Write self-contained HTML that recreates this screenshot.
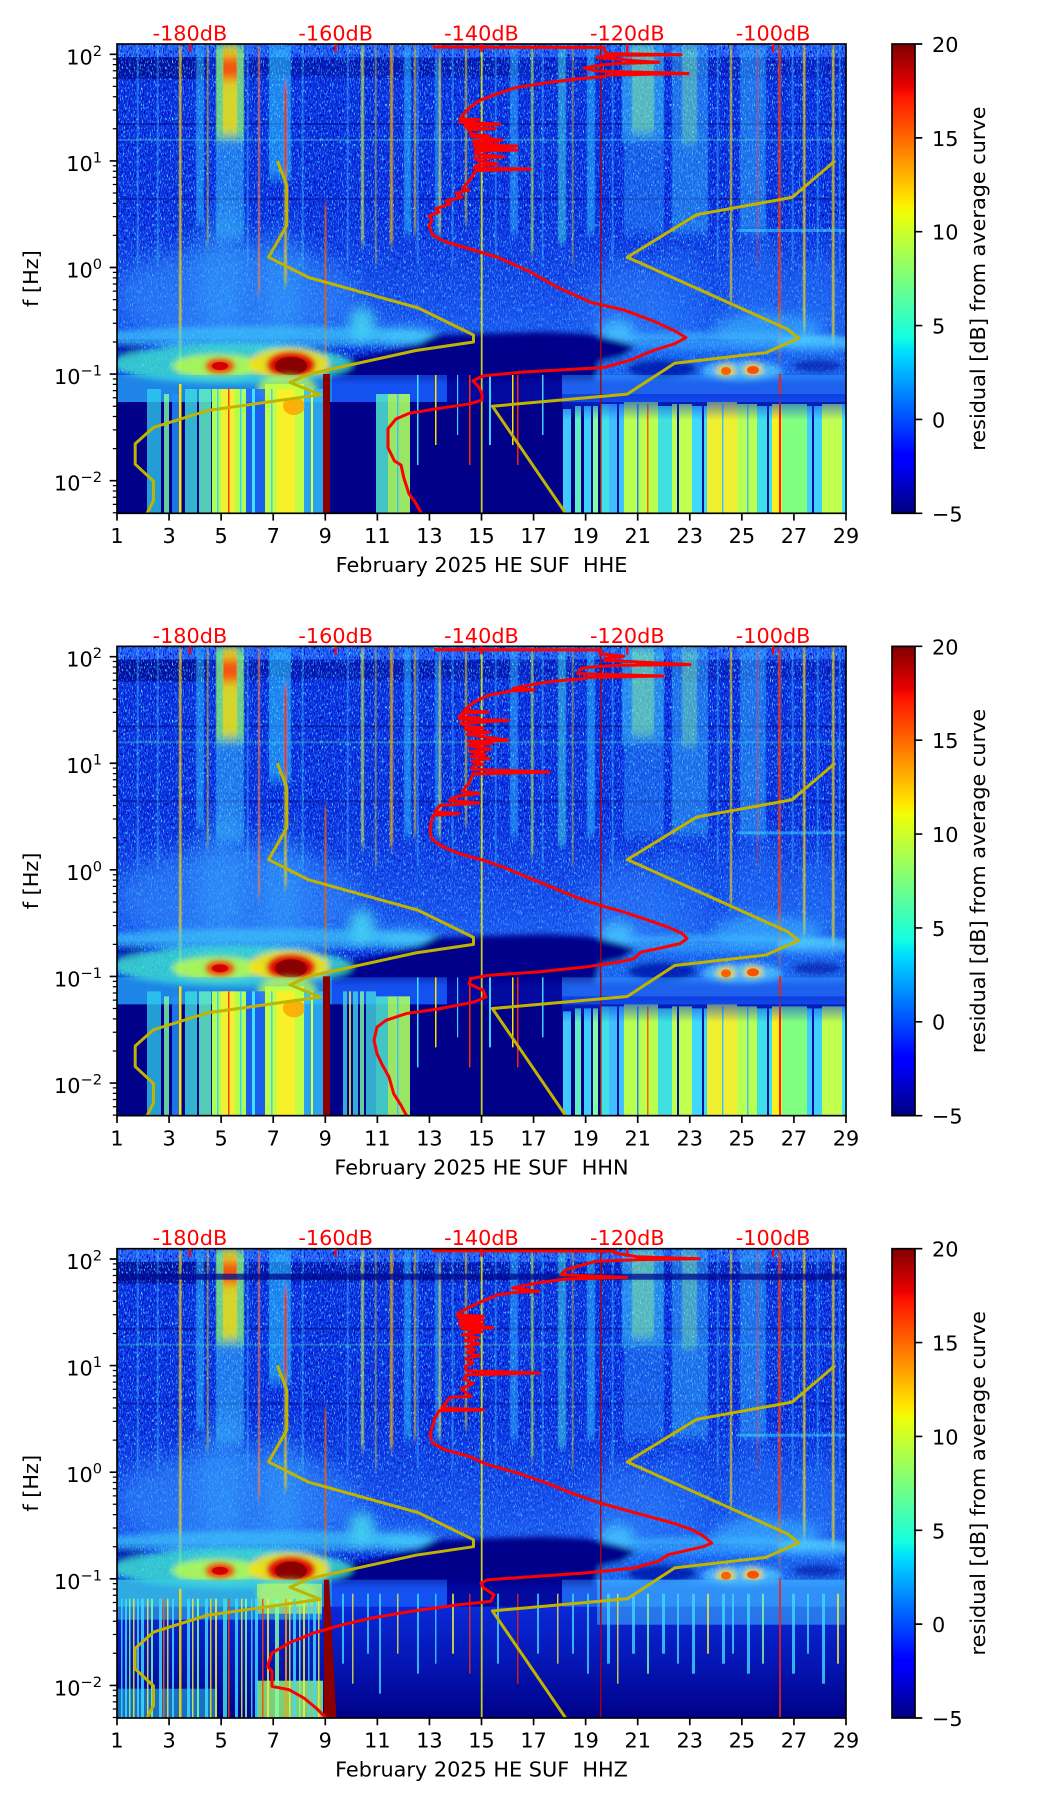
<!DOCTYPE html>
<html><head><meta charset="utf-8">
<style>
html,body{margin:0;padding:0;background:#fff}
svg{display:block}
text{font-family:"DejaVu Sans","Liberation Sans",sans-serif;font-size:20.8px;fill:#000}
</style></head>
<body>
<svg xmlns="http://www.w3.org/2000/svg" xmlns:xlink="http://www.w3.org/1999/xlink" width="1052" height="1806" viewBox="0 0 1052 1806">
<defs>
<linearGradient id="jet" x1="0" y1="1" x2="0" y2="0">
<stop offset="0" stop-color="#000080"/><stop offset="0.11" stop-color="#0000ff"/><stop offset="0.125" stop-color="#0000ff"/>
<stop offset="0.34" stop-color="#00dbff"/><stop offset="0.35" stop-color="#00e5f7"/><stop offset="0.375" stop-color="#14ffe2"/>
<stop offset="0.5" stop-color="#7bff7b"/><stop offset="0.64" stop-color="#eeff08"/><stop offset="0.66" stop-color="#ffec00"/>
<stop offset="0.89" stop-color="#ff1300"/><stop offset="0.91" stop-color="#e80000"/><stop offset="1" stop-color="#800000"/>
</linearGradient>
<linearGradient id="gmid" x1="0" y1="0" x2="0" y2="1"><stop offset="0" stop-color="#2a7aff" stop-opacity="0"/><stop offset="1" stop-color="#2a80ff" stop-opacity=".55"/></linearGradient>
<linearGradient id="gb3" x1="0" y1="0" x2="0" y2="1"><stop offset="0" stop-color="#0a28d8"/><stop offset=".55" stop-color="#0414b0"/><stop offset="1" stop-color="#000088"/></linearGradient>
<linearGradient id="gfade" x1="0" y1="0" x2="0" y2="1"><stop offset="0" stop-color="#0a38e0" stop-opacity=".85"/><stop offset="1" stop-color="#0a38e0" stop-opacity="0"/></linearGradient>
<clipPath id="cp"><rect x="0" y="0" width="729" height="469.3"/></clipPath>
<filter id="b3" x="-50%" y="-50%" width="200%" height="200%"><feGaussianBlur stdDeviation="3"/></filter>
<filter id="b6" x="-50%" y="-50%" width="200%" height="200%"><feGaussianBlur stdDeviation="6"/></filter>
<filter id="b10" x="-50%" y="-50%" width="200%" height="200%"><feGaussianBlur stdDeviation="10"/></filter>
<filter id="fs" x="-5%" y="-10%" width="110%" height="120%"><feGaussianBlur stdDeviation="0.4 5"/></filter>
<filter id="nzc" filterUnits="userSpaceOnUse" x="0" y="0" width="729" height="330">
<feTurbulence type="fractalNoise" baseFrequency="0.9 0.35" numOctaves="1" seed="4"/>
<feColorMatrix type="matrix" values="0 0 0 0 0.05  0 0 0 0 0.6  0 0 0 0 1  5 0 0 0 -2.75"/>
</filter>
<filter id="nze" filterUnits="userSpaceOnUse" x="0" y="0" width="729" height="330">
<feTurbulence type="fractalNoise" baseFrequency="0.9 0.3" numOctaves="1" seed="21"/>
<feColorMatrix type="matrix" values="0 0 0 0 0.25  0 0 0 0 1  0 0 0 0 0.85  8 0 0 0 -5.3"/>
</filter>
<filter id="nzd" filterUnits="userSpaceOnUse" x="0" y="0" width="729" height="330">
<feTurbulence type="fractalNoise" baseFrequency="0.8 0.3" numOctaves="1" seed="11"/>
<feColorMatrix type="matrix" values="0 0 0 0 0  0 0 0 0 0  0 0 0 0 0.5  0 5 0 0 -2.7"/>
</filter>

<g id="bg">
<rect width="729" height="470" fill="#0b32e2"/>
<rect y="0" width="729" height="13" fill="#2c6cff" opacity=".7"/>
<rect y="14" width="729" height="20" fill="#0818b0" opacity=".5"/>
<rect x="0" y="13" width="90" height="22" fill="#000c90" opacity=".75"/>
<rect x="130" y="14" width="270" height="18" fill="#000c98" opacity=".4"/>
<rect width="729" height="330" fill="#000" filter="url(#nzc)"/>
<rect width="729" height="330" fill="#000" filter="url(#nzd)"/>
<rect width="729" height="330" fill="#000" filter="url(#nze)"/>
<rect y="79" width="729" height="2" fill="#000c90" opacity=".6"/>
<rect y="95" width="729" height="2" fill="#40e0c0" opacity=".35"/>
<rect y="154" width="729" height="2" fill="#000c90" opacity=".5"/>
<rect y="170" width="729" height="125" fill="url(#gmid)"/>
<g filter="url(#b10)">
<ellipse cx="120" cy="250" rx="120" ry="50" fill="#3aa0ff" opacity=".45"/>
<ellipse cx="105" cy="225" rx="25" ry="60" fill="#40c0ff" opacity=".3"/>
<ellipse cx="165" cy="235" rx="20" ry="55" fill="#40c0ff" opacity=".3"/>
<ellipse cx="510" cy="260" rx="40" ry="45" fill="#3898ff" opacity=".35"/>
<ellipse cx="560" cy="250" rx="25" ry="50" fill="#3090ff" opacity=".3"/>
<ellipse cx="700" cy="250" rx="30" ry="40" fill="#3090ff" opacity=".3"/>
<ellipse cx="640" cy="240" rx="25" ry="50" fill="#3090ff" opacity=".3"/>
</g>
<g filter="url(#fs)">
<rect x="62" y="0" width="2.5" height="330" fill="#ffd000" opacity=".75"/>
<rect x="79" y="0" width="8" height="180" fill="#30d0ff" opacity=".45"/>
<rect x="90" y="0" width="1.5" height="200" fill="#ffe000" opacity=".6"/>
<rect x="99" y="0" width="28" height="95" fill="#90ff70" opacity=".75"/>
<rect x="99" y="95" width="28" height="100" fill="#40d0ff" opacity=".45"/>
<rect x="106" y="0" width="14" height="90" fill="#ffd800" opacity=".7"/>
<rect x="106" y="12" width="14" height="24" fill="#ff2000" opacity=".7"/>
<rect x="141" y="0" width="2" height="250" fill="#ff8040" opacity=".7"/>
<rect x="152" y="0" width="22" height="135" fill="#30d8ff" opacity=".5"/>
<rect x="167" y="40" width="3" height="90" fill="#ff3000" opacity=".7"/>
<rect x="167" y="130" width="3" height="110" fill="#ffd000" opacity=".6"/>
<rect x="207.5" y="160" width="2" height="180" fill="#f06000" opacity=".8"/>
<rect x="244" y="0" width="3" height="200" fill="#e0ff40" opacity=".6"/>
<rect x="273" y="0" width="3" height="200" fill="#ffb000" opacity=".7"/>
<rect x="287" y="0" width="7" height="190" fill="#30c8ff" opacity=".5"/>
<rect x="297" y="0" width="2" height="190" fill="#ffe000" opacity=".6"/>
<rect x="318" y="10" width="6" height="180" fill="#30c8ff" opacity=".45"/>
<rect x="322" y="10" width="2" height="180" fill="#ffe000" opacity=".6"/>
<rect x="348" y="0" width="2" height="180" fill="#ffe000" opacity=".6"/>
<rect x="393" y="0" width="8" height="190" fill="#30c8ff" opacity=".45"/>
<rect x="414" y="0" width="2.5" height="210" fill="#c0ff40" opacity=".6"/>
<rect x="441" y="0" width="8" height="200" fill="#40e0e0" opacity=".5"/>
<rect x="470" y="0" width="8" height="190" fill="#30c8ff" opacity=".5"/>
<rect x="505" y="0" width="42" height="95" fill="#40e0ff" opacity=".5"/>
<rect x="515" y="0" width="22" height="90" fill="#a0ff80" opacity=".4"/>
<rect x="507" y="95" width="40" height="95" fill="#30b0ff" opacity=".35"/>
<rect x="555" y="0" width="36" height="190" fill="#40d0ff" opacity=".4"/>
<rect x="565" y="0" width="15" height="100" fill="#90ff90" opacity=".35"/>
<rect x="613" y="0" width="2" height="260" fill="#ffe000" opacity=".7"/>
<rect x="623" y="0" width="26" height="190" fill="#40d0ff" opacity=".4"/>
<rect x="661" y="0" width="3" height="320" fill="#ff4000" opacity=".7"/>
<rect x="686" y="0" width="2.5" height="290" fill="#ffe000" opacity=".7"/>
<rect x="715" y="0" width="2.5" height="300" fill="#ffe000" opacity=".7"/>
<rect x="20" y="0" width="1.5" height="220" fill="#40d0ff" opacity=".5"/>
<rect x="40" y="0" width="1.5" height="220" fill="#40d0ff" opacity=".5"/>
<rect x="130" y="0" width="1.5" height="220" fill="#40d0ff" opacity=".5"/>
<rect x="185" y="0" width="1.5" height="220" fill="#40d0ff" opacity=".5"/>
<rect x="230" y="0" width="1.5" height="220" fill="#40d0ff" opacity=".5"/>
<rect x="258" y="0" width="1.5" height="220" fill="#ffe000" opacity=".5"/>
<rect x="300" y="0" width="1.5" height="220" fill="#40d0ff" opacity=".5"/>
<rect x="335" y="0" width="1.5" height="220" fill="#40d0ff" opacity=".5"/>
<rect x="378" y="0" width="1.5" height="220" fill="#40d0ff" opacity=".5"/>
<rect x="425" y="0" width="1.5" height="220" fill="#40d0ff" opacity=".5"/>
<rect x="455" y="0" width="1.5" height="220" fill="#ffe000" opacity=".5"/>
<rect x="495" y="0" width="1.5" height="220" fill="#40d0ff" opacity=".5"/>
<rect x="600" y="0" width="1.5" height="220" fill="#40d0ff" opacity=".5"/>
<rect x="640" y="0" width="1.5" height="220" fill="#ff3000" opacity=".5"/>
<rect x="675" y="0" width="1.5" height="220" fill="#40d0ff" opacity=".5"/>
<rect x="700" y="0" width="1.5" height="220" fill="#40d0ff" opacity=".5"/>
<rect x="722" y="0" width="1.5" height="220" fill="#40d0ff" opacity=".5"/>
</g>
<rect x="620" y="185" width="109" height="3" fill="#40e0ff" opacity=".5"/>
<g filter="url(#b6)">
<ellipse cx="245" cy="280" rx="14" ry="18" fill="#50f0f0" opacity=".7"/>
<ellipse cx="290" cy="292" rx="30" ry="9" fill="#50e0ff" opacity=".6"/>
<ellipse cx="500" cy="288" rx="18" ry="12" fill="#50e8ff" opacity=".6"/>
<ellipse cx="650" cy="285" rx="55" ry="16" fill="#40c8ff" opacity=".5"/>
</g>
<g filter="url(#b3)">
<ellipse cx="150" cy="293" rx="175" ry="11" fill="#40d0f8" opacity=".6"/>
<ellipse cx="600" cy="297" rx="140" ry="9" fill="#40c0ff" opacity=".6"/>
<ellipse cx="700" cy="300" rx="40" ry="8" fill="#60e8ff" opacity=".55"/>
<rect x="480" y="300" width="249" height="36" fill="#2a8cff" opacity=".55"/>
<polygon points="205,336 212,318 262,309 300,300 318,291 425,288 470,290 498,296 520,302 505,313 482,318 478,336" fill="#00008a"/>
<rect x="0" y="300" width="25" height="18" fill="#0010a0" opacity=".7"/>
<ellipse cx="545" cy="325" rx="35" ry="10" fill="#0008a0" opacity=".7"/>
<ellipse cx="700" cy="322" rx="25" ry="7" fill="#0010a0" opacity=".6"/>
<ellipse cx="115" cy="320" rx="120" ry="20" fill="#40e8d0" opacity=".8"/>
<ellipse cx="100" cy="322" rx="45" ry="12" fill="#c0ff40" opacity=".8"/>
<ellipse cx="172" cy="320" rx="40" ry="16" fill="#ffe000" opacity=".85"/>
<ellipse cx="625" cy="327" rx="40" ry="10" fill="#60e8ff" opacity=".6"/>
<ellipse cx="609" cy="327" rx="10" ry="7" fill="#ffe000" opacity=".8"/>
<ellipse cx="636" cy="326" rx="10" ry="7" fill="#ffe000" opacity=".8"/>
</g>
<ellipse cx="103" cy="322" rx="14" ry="7" fill="#ff3000" filter="url(#b3)"/>
<ellipse cx="103" cy="322" rx="8" ry="4" fill="#d00000"/>
<ellipse cx="174" cy="321" rx="23" ry="12" fill="#e00000" filter="url(#b3)"/>
<ellipse cx="174" cy="322" rx="16" ry="9" fill="#8a0000"/>
<ellipse cx="609" cy="327" rx="5" ry="4" fill="#ff6000"/>
<ellipse cx="636" cy="326" rx="6" ry="4" fill="#ff5000"/>
<rect x="0" y="331" width="215" height="34" fill="#30c8e8" opacity=".55"/>
<rect x="215" y="331" width="115" height="31" fill="#1e70ff" opacity=".5"/>
<rect x="330" y="331" width="115" height="31" fill="#000090" opacity=".8"/>
<rect x="445" y="331" width="284" height="34" fill="#3aa8ff" opacity=".4"/>
<ellipse cx="170" cy="345" rx="30" ry="15" fill="#c0ff50" opacity=".7" filter="url(#b3)"/>
</g>

<g id="vl">
<rect x="363.8" y="0" width="1.8" height="470" fill="#e8f000" opacity=".85"/>
<rect x="483" y="0" width="1.5" height="470" fill="#b00000" opacity=".9"/>
</g>

<g id="rcols">
<rect x="446" y="365" width="8" height="105" fill="#40c8ff"/>
<rect x="458" y="362" width="6" height="108" fill="#60f0c0"/>
<rect x="467" y="362" width="7" height="108" fill="#40d0ff"/>
<rect x="476" y="362" width="5" height="108" fill="#80ffa0"/>
<rect x="483" y="360" width="9" height="110" fill="#40e0e8"/>
<rect x="492" y="360" width="15" height="110" fill="#40c0ff"/>
<rect x="507" y="358" width="34" height="112" fill="#b8ff50"/>
<rect x="541" y="362" width="14" height="108" fill="#40e0e0"/>
<rect x="555" y="360" width="20" height="110" fill="#c0ff50"/>
<rect x="575" y="362" width="15" height="108" fill="#40d8ff"/>
<rect x="590" y="358" width="30" height="112" fill="#f0f030"/>
<rect x="620" y="360" width="20" height="110" fill="#b8ff50"/>
<rect x="640" y="362" width="15" height="108" fill="#40e0e8"/>
<rect x="655" y="360" width="10" height="110" fill="#f8f020"/>
<rect x="665" y="360" width="25" height="110" fill="#80ff80"/>
<rect x="690" y="362" width="15" height="108" fill="#40d0ff"/>
<rect x="705" y="360" width="20" height="110" fill="#c0ff50"/>
<rect x="725" y="360" width="4" height="110" fill="#40e0ff"/>
<rect x="500" y="360" width="2" height="110" fill="#0010a0"/>
<rect x="520" y="360" width="1.5" height="110" fill="#2080ff"/>
<rect x="560" y="360" width="2" height="110" fill="#0010a0"/>
<rect x="585" y="360" width="2" height="110" fill="#0010a0"/>
<rect x="605" y="360" width="1.5" height="110" fill="#40c0ff"/>
<rect x="630" y="360" width="1.5" height="110" fill="#40c0ff"/>
<rect x="650" y="360" width="2" height="110" fill="#0010a0"/>
<rect x="695" y="360" width="2" height="110" fill="#0010a0"/>
<rect x="530" y="360" width="1.5" height="110" fill="#ff6000"/>
<rect x="662" y="330" width="2" height="140" fill="#ff2000"/>
<rect x="445" y="350" width="284" height="26" fill="url(#gfade)"/>
</g>

<g id="bot12">
<rect x="0" y="358" width="729" height="112" fill="#000088"/>
<rect x="30" y="345" width="14" height="125" fill="#30d0f0" opacity=".75"/>
<rect x="47" y="350" width="5" height="120" fill="#80ffa0" opacity=".8"/>
<rect x="55" y="350" width="7" height="120" fill="#2090ff" opacity=".8"/>
<rect x="62" y="340" width="2.5" height="130" fill="#ffe000"/>
<rect x="68" y="345" width="12" height="125" fill="#40e0e0" opacity=".8"/>
<rect x="82" y="345" width="12" height="125" fill="#60f0c0" opacity=".85"/>
<rect x="95" y="345" width="34" height="125" fill="#b0ff50"/>
<rect x="104" y="345" width="14" height="125" fill="#f0f030"/>
<rect x="111" y="345" width="1.5" height="125" fill="#ff4000"/>
<rect x="100" y="345" width="1.5" height="125" fill="#40d0ff"/>
<rect x="123" y="345" width="1.5" height="125" fill="#40d0ff"/>
<rect x="129" y="345" width="19" height="125" fill="#2070ff" opacity=".85"/>
<rect x="135" y="345" width="3" height="125" fill="#40e0ff"/>
<rect x="148" y="340" width="39" height="130" fill="#c0ff48"/>
<rect x="160" y="345" width="18" height="125" fill="#f8f028"/>
<rect x="154" y="345" width="1.5" height="125" fill="#40d0ff"/>
<ellipse cx="177" cy="362" rx="11" ry="9" fill="#ffa000" opacity=".8"/>
<rect x="187" y="345" width="19" height="125" fill="#30c0ff" opacity=".85"/>
<rect x="194" y="345" width="2" height="125" fill="#e0ff40"/>
<rect x="206" y="330" width="7" height="140" fill="#8a0000"/>
<rect x="259" y="350" width="12" height="120" fill="#50e8d0" opacity=".85"/>
<rect x="271" y="350" width="22" height="120" fill="#a8ff60" opacity=".9"/>
<rect x="280" y="350" width="1.5" height="120" fill="#40c0ff"/>
<rect x="300" y="331" width="1.5" height="90" fill="#40e0ff"/>
<rect x="318" y="331" width="1.5" height="70" fill="#ffe000"/>
<rect x="340" y="331" width="1.2" height="60" fill="#40d0ff"/>
<rect x="352" y="331" width="1.5" height="90" fill="#ff3000"/>
<rect x="372" y="331" width="2" height="70" fill="#40d0ff"/>
<rect x="395" y="331" width="1.5" height="70" fill="#ffe000"/>
<rect x="400" y="331" width="1.5" height="90" fill="#ff2000"/>
<rect x="425" y="331" width="1.5" height="60" fill="#40d0ff"/>
<use href="#rcols"/>
</g>

<g id="bot3">
<rect x="0" y="358" width="729" height="112" fill="url(#gb3)"/>
<rect x="0" y="331" width="205" height="40" fill="#40d0e0" opacity=".5"/>
<rect x="140" y="335" width="65" height="30" fill="#c0ff60" opacity=".6"/>
<rect x="480" y="331" width="249" height="45" fill="#40b8ff" opacity=".55"/>
<rect x="0" y="440" width="100" height="30" fill="#30c8e8" opacity=".55"/>
<rect x="140" y="432" width="66" height="38" fill="#a0ff70" opacity=".8"/>
<g opacity=".85">
<rect x="4" y="350" width="1.5" height="120" fill="#40d8ff"/>
<rect x="8" y="350" width="2" height="120" fill="#40d8ff"/>
<rect x="12" y="350" width="1.5" height="120" fill="#80ffa0"/>
<rect x="16" y="350" width="1.5" height="120" fill="#f0f040"/>
<rect x="20" y="350" width="2" height="120" fill="#40d8ff"/>
<rect x="24" y="350" width="3" height="120" fill="#40d8ff"/>
<rect x="30" y="350" width="1.5" height="120" fill="#f0f040"/>
<rect x="34" y="350" width="2" height="120" fill="#80ffa0"/>
<rect x="42" y="350" width="3" height="120" fill="#40d8ff"/>
<rect x="46" y="350" width="1.5" height="120" fill="#ff6000"/>
<rect x="50" y="350" width="1.5" height="120" fill="#f0f040"/>
<rect x="55" y="350" width="2" height="120" fill="#40d8ff"/>
<rect x="62" y="340" width="2.5" height="130" fill="#ffe000"/>
<rect x="70" y="350" width="3" height="120" fill="#40d8ff"/>
<rect x="75" y="350" width="1.5" height="120" fill="#f0f040"/>
<rect x="80" y="350" width="2" height="120" fill="#80ffa0"/>
<rect x="88" y="350" width="3" height="120" fill="#40d8ff"/>
<rect x="93" y="350" width="1.5" height="120" fill="#ffe000"/>
<rect x="98" y="350" width="2" height="120" fill="#f0f040"/>
<rect x="106" y="350" width="4" height="120" fill="#40e0e0"/>
<rect x="111" y="350" width="1.5" height="120" fill="#ff4000"/>
<rect x="118" y="350" width="3" height="120" fill="#40d8ff"/>
<rect x="124" y="350" width="1.5" height="120" fill="#f0f040"/>
<rect x="128" y="350" width="2" height="120" fill="#80ffa0"/>
<rect x="134" y="350" width="1.5" height="120" fill="#40d8ff"/>
<rect x="138" y="350" width="3" height="120" fill="#40d8ff"/>
<rect x="145" y="350" width="1.5" height="120" fill="#ff4000"/>
<rect x="150" y="350" width="2" height="120" fill="#f0f040"/>
<rect x="158" y="350" width="4" height="120" fill="#80ffa0"/>
<rect x="168" y="350" width="2" height="120" fill="#ffa000"/>
<rect x="172" y="350" width="1.5" height="120" fill="#f0f040"/>
<rect x="176" y="350" width="3" height="120" fill="#40d8ff"/>
<rect x="182" y="350" width="1.5" height="120" fill="#80ffa0"/>
<rect x="186" y="350" width="2" height="120" fill="#f0f040"/>
<rect x="191" y="350" width="1.5" height="120" fill="#40d8ff"/>
<rect x="196" y="350" width="3" height="120" fill="#40d8ff"/>
<rect x="201" y="350" width="1.5" height="120" fill="#f0f040"/>
</g>
<polygon points="207,331 212,331 219.5,470 207,470" fill="#8a0000"/>
<g opacity=".8">
<rect x="225" y="345" width="2" height="70" fill="#40d8ff"/>
<rect x="235" y="345" width="1.5" height="90" fill="#f0f040"/>
<rect x="250" y="345" width="2" height="60" fill="#40d8ff"/>
<rect x="262" y="345" width="2" height="100" fill="#40d8ff"/>
<rect x="280" y="345" width="1.5" height="60" fill="#f0f040"/>
<rect x="300" y="345" width="2" height="80" fill="#40d8ff"/>
<rect x="318" y="345" width="1.5" height="70" fill="#40d8ff"/>
<rect x="335" y="345" width="2" height="60" fill="#f0f040"/>
<rect x="352" y="345" width="1.5" height="80" fill="#ff3000"/>
<rect x="380" y="345" width="2" height="70" fill="#40d8ff"/>
<rect x="400" y="345" width="1.5" height="90" fill="#ff2000"/>
<rect x="420" y="345" width="2" height="60" fill="#40d8ff"/>
<rect x="440" y="345" width="1.5" height="70" fill="#f0f040"/>
<rect x="455" y="345" width="2" height="60" fill="#40d8ff"/>
<rect x="470" y="345" width="2" height="80" fill="#40d8ff"/>
<rect x="490" y="345" width="3" height="70" fill="#40d8ff"/>
<rect x="500" y="345" width="1.5" height="90" fill="#f0f040"/>
<rect x="515" y="345" width="3" height="60" fill="#40d8ff"/>
<rect x="530" y="345" width="2" height="80" fill="#80ffa0"/>
<rect x="545" y="345" width="3" height="60" fill="#40d8ff"/>
<rect x="560" y="345" width="2" height="70" fill="#40d8ff"/>
<rect x="575" y="345" width="3" height="80" fill="#40d8ff"/>
<rect x="590" y="345" width="2" height="60" fill="#f0f040"/>
<rect x="605" y="345" width="3" height="70" fill="#40d8ff"/>
<rect x="615" y="345" width="2" height="60" fill="#40d8ff"/>
<rect x="630" y="345" width="3" height="80" fill="#40d8ff"/>
<rect x="645" y="345" width="2" height="70" fill="#80ffa0"/>
<rect x="662" y="330" width="2" height="140" fill="#ff2000"/>
<rect x="675" y="345" width="3" height="80" fill="#40d8ff"/>
<rect x="690" y="345" width="2" height="60" fill="#40d8ff"/>
<rect x="705" y="345" width="3" height="90" fill="#40d8ff"/>
<rect x="720" y="345" width="2" height="70" fill="#f0f040"/>
</g>
</g>

<polyline id="nlnm" fill="none" stroke="#c0b400" stroke-width="3" stroke-linejoin="round" points="160.4,116.9 169.9,141.5 169.9,181.1 151.6,213.2 191.7,233.5 301.4,264 356.5,291 356.5,298 298.9,306.5 191.4,330.1 173.1,338.5 203.2,350.7 91.1,366.4 36.5,383.4 18.2,399.7 18.2,420.2 36.5,437.2 36.5,456.7 30.3,468.8 29.5,472"/>
<polyline id="nhnm" fill="none" stroke="#c0b400" stroke-width="3" stroke-linejoin="round" points="718.1,116.9 675.1,153.4 579.6,170.7 510.3,213.2 670.7,285.3 681.6,294.2 648.8,308.7 557.7,319.2 510.3,350.1 375.4,362.2 448.3,468.8 450,472"/>

<g id="axes">
<rect x="0" y="0" width="729" height="469.3" fill="none" stroke="#000" stroke-width="1.67"/>
<path fill="none" stroke="#000" stroke-width="1.67" d="M0,469.3v7.3M52.07,469.3v7.3M104.14,469.3v7.3M156.21,469.3v7.3M208.29,469.3v7.3M260.36,469.3v7.3M312.43,469.3v7.3M364.5,469.3v7.3M416.57,469.3v7.3M468.64,469.3v7.3M520.71,469.3v7.3M572.79,469.3v7.3M624.86,469.3v7.3M676.93,469.3v7.3M729,469.3v7.3M0,10.3h-7.3M0,116.9h-7.3M0,223.5h-7.3M0,330.1h-7.3M0,436.7h-7.3"/>
<path fill="none" stroke="#000" stroke-width="1.25" d="M0,84.81h-4.2M0,66.04h-4.2M0,52.72h-4.2M0,42.39h-4.2M0,33.95h-4.2M0,26.81h-4.2M0,20.63h-4.2M0,15.18h-4.2M0,191.41h-4.2M0,172.64h-4.2M0,159.32h-4.2M0,148.99h-4.2M0,140.55h-4.2M0,133.41h-4.2M0,127.23h-4.2M0,121.78h-4.2M0,298.01h-4.2M0,279.24h-4.2M0,265.92h-4.2M0,255.59h-4.2M0,247.15h-4.2M0,240.01h-4.2M0,233.83h-4.2M0,228.38h-4.2M0,404.61h-4.2M0,385.84h-4.2M0,372.52h-4.2M0,362.19h-4.2M0,353.75h-4.2M0,346.61h-4.2M0,340.43h-4.2M0,334.98h-4.2M0,468.79h-4.2M0,460.35h-4.2M0,453.21h-4.2M0,447.03h-4.2M0,441.58h-4.2"/>
<path fill="none" stroke="#ff0000" stroke-width="2.2" d="M72.9,0v8M218.7,0v8M364.5,0v8M510.3,0v8M656.1,0v8"/>
<g text-anchor="middle">
<text x="72.9" y="-3.5" style="fill:#ff0000">-180dB</text>
<text x="218.7" y="-3.5" style="fill:#ff0000">-160dB</text>
<text x="364.5" y="-3.5" style="fill:#ff0000">-140dB</text>
<text x="510.3" y="-3.5" style="fill:#ff0000">-120dB</text>
<text x="656.1" y="-3.5" style="fill:#ff0000">-100dB</text>
</g>
<g text-anchor="middle">
<text x="0" y="499">1</text><text x="52.07" y="499">3</text><text x="104.14" y="499">5</text><text x="156.21" y="499">7</text>
<text x="208.29" y="499">9</text><text x="260.36" y="499">11</text><text x="312.43" y="499">13</text><text x="364.5" y="499">15</text>
<text x="416.57" y="499">17</text><text x="468.64" y="499">19</text><text x="520.71" y="499">21</text><text x="572.79" y="499">23</text>
<text x="624.86" y="499">25</text><text x="676.93" y="499">27</text><text x="729" y="499">29</text>
</g>
<g text-anchor="end">
<text x="-15" y="20.3">10<tspan font-size="14.6" dy="-8.5">2</tspan></text>
<text x="-15" y="126.9">10<tspan font-size="14.6" dy="-8.5">1</tspan></text>
<text x="-15" y="233.5">10<tspan font-size="14.6" dy="-8.5">0</tspan></text>
<text x="-15" y="340.1">10<tspan font-size="14.6" dy="-8.5">−1</tspan></text>
<text x="-15" y="446.7">10<tspan font-size="14.6" dy="-8.5">−2</tspan></text>
</g>
<text transform="translate(-79,234.6) rotate(-90)" text-anchor="middle">f [Hz]</text>
<rect x="775" y="0" width="23" height="469.3" fill="url(#jet)" stroke="#000" stroke-width="1.67"/>
<path fill="none" stroke="#000" stroke-width="1.67" d="M798,0h7.3M798,93.86h7.3M798,187.72h7.3M798,281.58h7.3M798,375.44h7.3M798,469.3h7.3"/>
<text x="815" y="8">20</text>
<text x="815" y="101.9">15</text>
<text x="815" y="195.7">10</text>
<text x="815" y="289.6">5</text>
<text x="815" y="383.4">0</text>
<text x="815" y="477.3">−5</text>
<text transform="translate(868,234.6) rotate(-90)" text-anchor="middle">residual [dB] from average curve</text>
</g>
</defs>

<!-- Panel 1 HHE -->
<g transform="translate(117,44)">
<g clip-path="url(#cp)">
<use href="#bg"/>
<use href="#bot12"/>
<use href="#vl"/>
<use href="#nlnm"/>
<use href="#nhnm"/>
<polyline fill="none" stroke="#ff0000" stroke-width="3" stroke-linejoin="round" points="315.8,3 487,3.5 488,7 490,9.6 564,10.7 490,11.5 480,13.4 521,17 542,18.4 500,19.5 485,21 467,24 480,27 571,29.5 490,31 487,32.6 460,35 433,38.3 400,43.3 380,49.8 363,56.3 353,63.2 346,70.8 343,75 362,75.5 345,77 343,78.5 383,80 348,81.5 350,84 378,84.5 352,86 354,90 372,92 355,93 385,96 356,97.5 380,100 357,101 400,102 358,104 400,106 359,107 358,110 387,113 358,114.5 362,117 380,120 360,121 357,124 413,125 360,126.5 358,128 353,136 346,143.6 352,146 339,149 345,153 329,157 333,160 319,164.6 322,168 312,172 315,176 312,182 316,191.4 329,198 353,205 380,213 413,227.8 440,243 474,258.4 507,266 537.5,277.5 558,287 569,293.6 558,299.7 537.5,306 514,315.8 487,323.5 453.5,325.4 406.5,328 366,331.9 356,336.9 361.5,342.6 365,350 365,356 353,359.8 319,364.8 292,369.4 279,375 271,384.7 271,403.8 277.5,417 284,421 287,434.5 292,449.8 299,459.4 305.7,472"/>
</g>
<use href="#axes"/>
<text x="364.5" y="528" text-anchor="middle">February 2025 HE SUF&#160; HHE</text>
</g>

<!-- Panel 2 HHN -->
<g transform="translate(117,646.35)">
<g clip-path="url(#cp)">
<use href="#bg"/>
<use href="#bot12"/>
<g opacity=".8">
<rect x="226" y="345" width="4" height="125" fill="#40d8e0"/>
<rect x="232" y="345" width="2" height="125" fill="#f0f040"/>
<rect x="236" y="345" width="5" height="125" fill="#40d8e0"/>
<rect x="243" y="345" width="4" height="125" fill="#80ffa0"/>
<rect x="249" y="345" width="10" height="125" fill="#40d8e0"/>
</g>
<use href="#vl"/>
<use href="#nlnm"/>
<use href="#nhnm"/>
<polyline fill="none" stroke="#ff0000" stroke-width="3" stroke-linejoin="round" points="317,3.3 483,3.5 483,7.3 507,10 488,12 488,14 573,18.3 500,19 470,21 463.6,22.3 461,27.3 546,29.7 470,31 468,32.3 440,34.5 420,37.3 395.6,42.3 417,43.5 395,44.5 371,49 357,55.7 347,64 371,65.7 345,67 342,70.7 362,71.5 343,73 391,74 344,77 350,80 366,81.5 348,83 372,86 350,88 378,92 391,94 351,95 375,97 352,99 373,103 353,105 368,108 354,110 372,112 355,115 366,118 356,120 355,123 432,125.7 356,127.5 352,137 345,145 362,147 340,150 332.5,154 362,156.7 323,159 318,165.7 342,167 316,169 314.6,174 313,184 314.6,192.3 323,199 342,207.3 366.5,214 386,220.7 410,230.7 434.5,240.7 458.7,250.7 483,259 507,265.7 531.5,274 551,280.7 565.5,287.3 570,292.3 563,297.3 541,302.3 524,305.7 517,312.3 502,315.7 468,320.7 420,325.7 371,329 354,332.3 352,337.3 366,344 369,350.7 357,355.7 323,362.3 289,367.3 269,374 260,380.7 257,394 260,407.3 264.6,417.3 272,430.7 276.7,447.3 284,459 291,472"/>
</g>
<use href="#axes"/>
<text x="364.5" y="528" text-anchor="middle">February 2025 HE SUF&#160; HHN</text>
</g>

<!-- Panel 3 HHZ -->
<g transform="translate(117,1248.7)">
<g clip-path="url(#cp)">
<use href="#bg"/>
<rect x="0" y="25" width="729" height="6" fill="#000a90" opacity=".75"/>
<use href="#bot3"/>
<use href="#vl"/>
<use href="#nlnm"/>
<use href="#nhnm"/>
<polyline fill="none" stroke="#ff0000" stroke-width="3" stroke-linejoin="round" points="315.5,2 497.6,2.5 497.6,4.3 520,8 582.5,10 520,11 478,12.7 449,21 444,26 509.7,28.7 449,30.3 420,34.3 395.6,39.3 422,42.7 400,43.5 381,46 357,56 342,64.3 340,66 366.5,67.7 341,69 366,71 342,73 366,75 343,76.5 376,79 345,80 365,83 346,86 361,89 348,92 362,95 349,98 358,101 350,104 362,107 349,110 356,114 348,118 350,122 422,124.3 350,126 347,130 356,135 344,140 354,147.7 335,148.5 332.5,149.3 325,159.3 366.5,161 322,162 318,169.3 313,186 315.5,194.3 327.7,201 352,207.7 371,216 400.5,224.3 429.6,234.3 458.7,246 483,254.3 507,261 531.5,267.7 555.8,274.3 575,281 587,287.7 594.7,294.3 587,297.7 565.5,302.7 551,306 541,312.7 517,319.3 468,324.3 420,327.7 371,331 364,334.3 366.5,339.3 377,346 373.8,352.7 342,356 293.7,362.7 255,369.3 225.7,376 196.6,384.3 172,394.3 155,404.3 150.5,417.7 155,422.7 155,437.7 172,441 186.9,449.3 199,459.3 212,472"/>
</g>
<use href="#axes"/>
<text x="364.5" y="528" text-anchor="middle">February 2025 HE SUF&#160; HHZ</text>
</g>
</svg>
</body></html>
